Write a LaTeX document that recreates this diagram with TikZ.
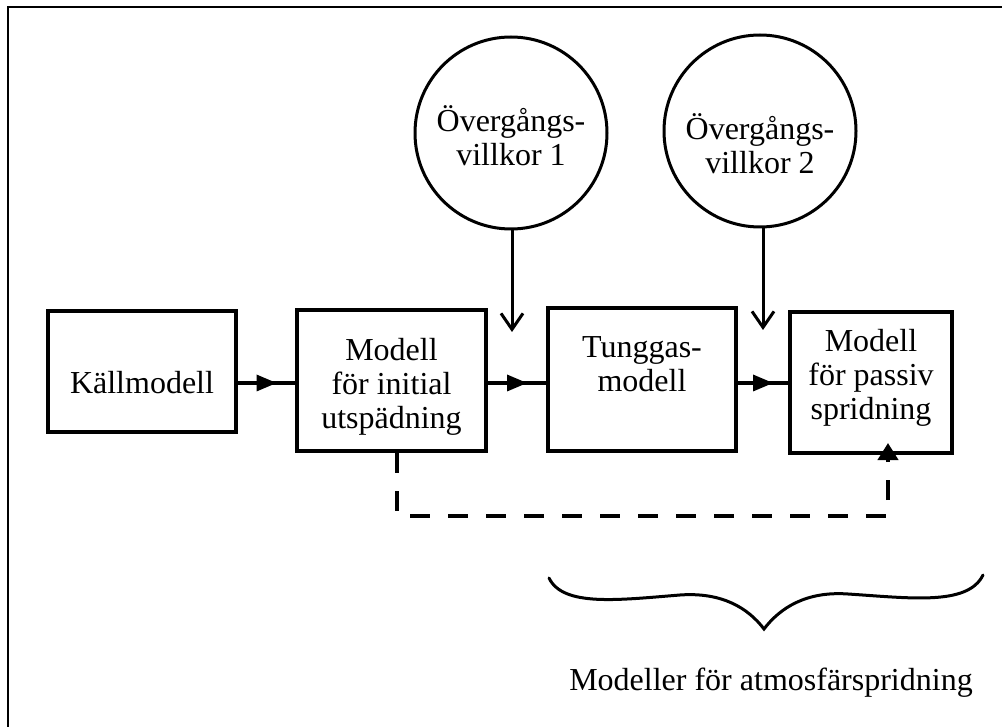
\documentclass[tikz,border=0pt]{standalone}
\usepackage{fontspec}
\setmainfont{Liberation Serif}
\usetikzlibrary{arrows.meta,decorations.markings}

\tikzset{
  every node/.style={font=\fontsize{32}{34}\selectfont, align=center, inner sep=0pt},
  block/.style={draw, line width=4pt, rectangle},
  cond/.style={draw, circle, line width=3pt, minimum size=192pt},
  flow/.style={line width=4pt, postaction={decorate},
    decoration={markings, mark=at position 0.5 with
      {\fill (-10pt,-8.5pt) -- (10pt,0pt) -- (-10pt,8.5pt) -- cycle;}}},
  drop/.style={line width=3pt, -{Straight Barb[length=16pt,width=22pt,line width=3pt]}},
  bypass/.style={line width=4pt, dash pattern=on 20pt off 18pt,
    -{Triangle[length=17pt,width=20pt]}},
}

\begin{document}
\begin{tikzpicture}[x=1pt, y=-1pt]
  \useasboundingbox (0,0) rectangle (1002,727);

  % frame
  \draw[line width=2pt] (8,727) -- (8,7) -- (1002,7);

  % model chain
  \node[block, minimum width=188pt, minimum height=121pt,
        label={[yshift=-11pt]center:Källmodell}] (b1) at (142,371.5) {};
  \node[block, minimum width=189pt, minimum height=141pt,
        label={[yshift=-6pt]center:Modell\\för initial\\utspädning}] (b2) at (391.5,380.5) {};
  \node[block, minimum width=188pt, minimum height=143pt,
        label={[yshift=15pt]center:Tunggas-\\modell}] (b3) at (642,379.5) {};
  \node[block, minimum width=162pt, minimum height=141pt,
        label={[yshift=5pt]center:Modell\\för passiv\\spridning}] (b4) at (871,382.5) {};

  % transition conditions
  \node[cond, label={[yshift=-3pt]center:Övergångs-\\villkor 1}] (c1) at (511,133) {};
  \node[cond, label={[yshift=-13pt]center:Övergångs-\\villkor 2}] (c2) at (760,131) {};

  % lanes and arrow ends
  \coordinate (lane) at (0,383);
  \coordinate (t1) at (512,332);
  \coordinate (t2) at (763,330);
  \coordinate (d0) at (397,451);
  \coordinate (d1) at (888,516);
  \coordinate (d2) at (888,443);

  \draw[flow] (b1.east |- lane) -- (b2.west |- lane);
  \draw[flow] (b2.east |- lane) -- (b3.west |- lane);
  \draw[flow] (b3.east |- lane) -- (b4.west |- lane);

  \draw[drop] (c1.south -| t1) -- (t1);
  \draw[drop] (c2.south -| t2) -- (t2);

  % bypass of the heavy-gas model
  \draw[bypass] (b2.south -| d0) |- (d1) -- (d2);

  % brace
  \draw[line width=3pt, line cap=round]
    (549,578) .. controls (563,607) and (618,600) .. (680,595)
              .. controls (722,592) and (748,608) .. (764,629)
              .. controls (780,608) and (806,591) .. (848,594)
              .. controls (910,598) and (968,606) .. (983,575);

  \node (lbl) at (771,683) {Modeller för atmosfärspridning};
\end{tikzpicture}
\end{document}
